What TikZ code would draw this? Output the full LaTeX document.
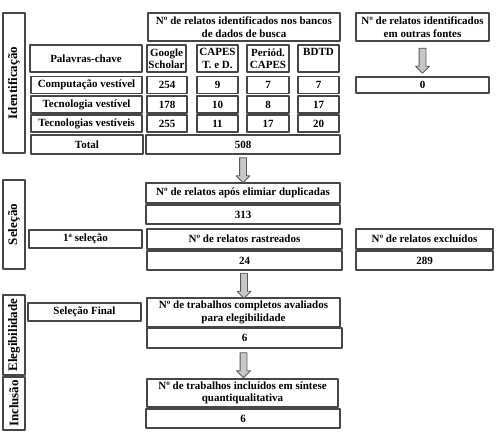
\documentclass[tikz,border=0pt]{standalone}
\usepackage{fontspec}
\setmainfont{Liberation Serif}
\usetikzlibrary{shapes.arrows}

\begin{document}
\begin{tikzpicture}[
  x=1pt,
  y=-1pt,
  line join=round,
  font=\bfseries\fontsize{11}{12.5}\selectfont,
  box/.style={draw=black!72,line width=1.1pt,inner sep=1pt,align=center},
  side/.style={box,rotate=90,minimum height=22,font=\bfseries\fontsize{13}{14}\selectfont},
  bigarrow/.style={single arrow,draw=black!65,fill=black!22,line width=0.8pt,
    shape border rotate=270,minimum height=25,minimum width=13,inner sep=3pt,
    single arrow head extend=3.5pt}
]
  \useasboundingbox (0,0) rectangle (498,433);

  % Phase labels on the left.
  \node[side,minimum width=140] (ident) at (14,83) {Identificação};
  \node[side,minimum width=89] (selec) at (14,224.5) {Seleção};
  \node[side,minimum width=80] (elegi) at (14,335) {Elegibilidade};
  \node[side,minimum width=53] (inclu) at (14,403.5) {Inclusão};

  % Identification: database table.
  \node[box,minimum width=192,minimum height=28] (bancos) at (244,27)
    {Nº de relatos identificados nos bancos\\de dados de busca};
  \node[box,minimum width=133,minimum height=28] (outras) at (422.5,27)
    {Nº de relatos identificados\\em outras fontes};
  \node[box,minimum width=112,minimum height=27] (kw) at (86,58.5) {Palavras-chave};
  \node[box,minimum width=39,minimum height=27] (gs) at (166.5,58.5) {Google\\Scholar};
  \node[box,minimum width=41,minimum height=27] (ctd) at (217.5,58.5) {CAPES\\T. e D.};
  \node[box,minimum width=42,minimum height=27] (pc) at (268,58.5) {Periód.\\CAPES};
  \node[box,minimum width=41,minimum height=27] (bdtd) at (318.5,58.5) {BDTD\\~};

  \foreach \r/\yy/\kw/\a/\b/\c/\d in {
      1/85/Computação vestível/254/9/7/7,
      2/104.5/Tecnologia vestível/178/10/8/17,
      3/123.5/Tecnologias vestíveis/255/11/17/20} {
    \node[box,minimum width=111,minimum height=17] (kw\r) at (86.5,\yy) {\kw};
    \node[box,minimum width=40,minimum height=17] (gs\r) at (167,\yy) {\a};
    \node[box,minimum width=41,minimum height=17] (ctd\r) at (217.5,\yy) {\b};
    \node[box,minimum width=42,minimum height=17] (pc\r) at (268,\yy) {\c};
    \node[box,minimum width=41,minimum height=17] (bdtd\r) at (318.5,\yy) {\d};
  }

  \node[box,minimum width=112,minimum height=19] (total) at (87,144.5) {Total};
  \node[box,minimum width=194,minimum height=19] (soma) at (243,144.5) {508};
  \node[box,minimum width=133,minimum height=16] (zero) at (422.5,85) {0};

  % Selection.
  \node[box,minimum width=194,minimum height=20] (dup) at (243,193)
    {Nº de relatos após elimiar duplicadas};
  \node[box,minimum width=194,minimum height=19] (semdup) at (243,214.5) {313};
  \node[box,minimum width=113,minimum height=18] (sel1) at (85.5,239) {1ª seleção};
  \node[box,minimum width=195,minimum height=20] (rastr) at (244.5,239)
    {Nº de relatos rastreados};
  \node[box,minimum width=195,minimum height=19] (nrastr) at (244.5,260.5) {24};
  \node[box,minimum width=137,minimum height=20] (excl) at (424.5,239)
    {Nº de relatos excluídos};
  \node[box,minimum width=137,minimum height=19] (nexcl) at (424.5,260.5) {289};

  % Eligibility and inclusion.
  \node[box,minimum width=113,minimum height=18] (selfin) at (84.5,312) {Seleção Final};
  \node[box,minimum width=193,minimum height=29] (compl) at (243.5,312.5)
    {Nº de trabalhos completos avaliados\\para elegibilidade};
  \node[box,minimum width=195,minimum height=20] (ncompl) at (244.5,338) {6};
  \node[box,minimum width=191,minimum height=28] (incl) at (242.5,393)
    {Nº de trabalhos incluídos em síntese\\quantiqualitativa};
  \node[box,minimum width=194,minimum height=19] (nincl) at (243,418.5) {6};

  % Block arrows.
  \path (outras.south) -- node[bigarrow] {} (zero.north);
  \path (soma.south) -- node[bigarrow] {} (dup.north);
  \path (nrastr.south) -- node[bigarrow] {} (compl.north);
  \path (ncompl.south) -- node[bigarrow] {} (incl.north);
\end{tikzpicture}
\end{document}
